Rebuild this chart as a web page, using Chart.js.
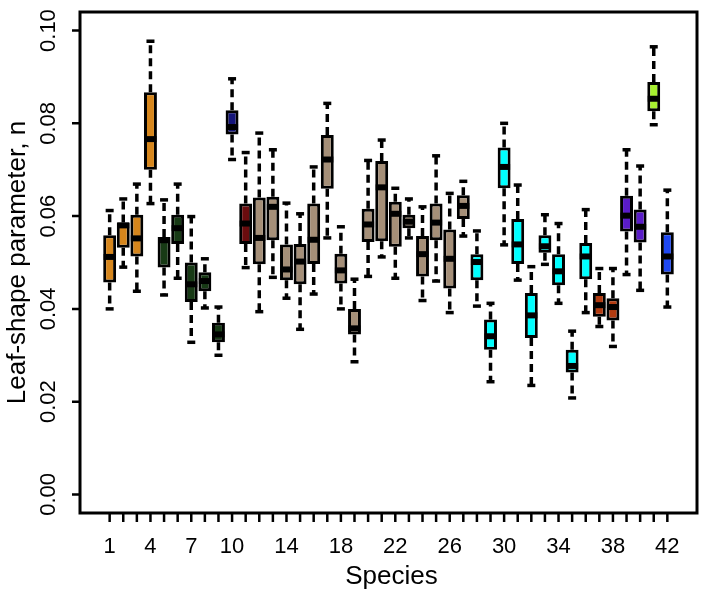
<!DOCTYPE html>
<html>
<head>
<meta charset="utf-8">
<script src="https://cdn.jsdelivr.net/npm/chart.js@4.4.1/dist/chart.umd.min.js"></script>
<style>
    html, body { margin: 0; padding: 0; background: #fff; }
    #wrap { width: 709px; height: 590px; }
</style>
</head>
<body>
<div id="wrap"><canvas id="chart" width="709" height="590"></canvas></div>
<script>
// species numbers (x categories)
const species = Array.from({ length: 42 }, (_, i) => i + 1);

// boxplot stats
const whiskerLow = [0.0400, 0.0490, 0.0438, 0.0627, 0.0430, 0.0466, 0.0328, 0.0402, 0.0300, 0.0722,
    0.0489, 0.0394, 0.0468, 0.0423, 0.0356, 0.0432, 0.0553, 0.0400, 0.0286, 0.0470,
    0.0512, 0.0466, 0.0553, 0.0418, 0.0460, 0.0392, 0.0557, 0.0406, 0.0243, 0.0538,
    0.0462, 0.0235, 0.0496, 0.0412, 0.0208, 0.0392, 0.0362, 0.0319, 0.0474, 0.0440,
    0.0797, 0.0404];
const q1 = [0.0457, 0.0532, 0.0513, 0.0700, 0.0489, 0.0540, 0.0415, 0.0438, 0.0328, 0.0776,
    0.0540, 0.0496, 0.0548, 0.0462, 0.0453, 0.0497, 0.0659, 0.0455, 0.0345, 0.0544,
    0.0546, 0.0534, 0.0574, 0.0470, 0.0548, 0.0444, 0.0594, 0.0462, 0.0312, 0.0660,
    0.0497, 0.0337, 0.0521, 0.0451, 0.0263, 0.0464, 0.0383, 0.0375, 0.0567, 0.0543,
    0.0826, 0.0474];
const median = [0.0512, 0.0580, 0.0552, 0.0766, 0.0548, 0.0574, 0.0453, 0.0460, 0.0345, 0.0792,
    0.0584, 0.0553, 0.0620, 0.0485, 0.0502, 0.0549, 0.0722, 0.0483, 0.0358, 0.0582,
    0.0662, 0.0605, 0.0588, 0.0518, 0.0586, 0.0508, 0.0622, 0.0501, 0.0341, 0.0706,
    0.0539, 0.0386, 0.0535, 0.0481, 0.0277, 0.0513, 0.0408, 0.0404, 0.0601, 0.0577,
    0.0853, 0.0513];
const q3 = [0.0559, 0.0586, 0.0603, 0.0867, 0.0555, 0.0603, 0.0500, 0.0479, 0.0370, 0.0828,
    0.0627, 0.0640, 0.0642, 0.0539, 0.0540, 0.0627, 0.0775, 0.0519, 0.0400, 0.0616,
    0.0719, 0.0631, 0.0603, 0.0557, 0.0627, 0.0571, 0.0645, 0.0518, 0.0377, 0.0748,
    0.0594, 0.0434, 0.0559, 0.0518, 0.0312, 0.0542, 0.0434, 0.0423, 0.0644, 0.0614,
    0.0889, 0.0565];
const whiskerHigh = [0.0612, 0.0637, 0.0669, 0.0977, 0.0635, 0.0669, 0.0599, 0.0508, 0.0404, 0.0896,
    0.0737, 0.0779, 0.0743, 0.0628, 0.0605, 0.0706, 0.0843, 0.0577, 0.0464, 0.0720,
    0.0764, 0.0660, 0.0637, 0.0620, 0.0730, 0.0649, 0.0675, 0.0568, 0.0412, 0.0800,
    0.0667, 0.0491, 0.0603, 0.0584, 0.0352, 0.0614, 0.0487, 0.0487, 0.0743, 0.0708,
    0.0965, 0.0656];

// axis ticks
const xTickLabels = [1, 4, 7, 10, 14, 18, 22, 26, 30, 34, 38, 42];
const yTicks = [0, 0.02, 0.04, 0.06, 0.08, 0.10];
const yTickLabels = ['0.00', '0.02', '0.04', '0.06', '0.08', '0.10'];

// fill colour for each run of species
const colorRuns = [
    [4, '#d6861c'], [5, '#173a15'], [1, '#15157a'], [1, '#6a0c0e'], [16, '#a58f78'],
    [9, '#00ffff'], [2, '#b33b10'], [2, '#5a1cc8'], [1, '#a8f030'], [1, '#1f48f2']
];
const boxColors = [];
colorRuns.forEach(([n, c]) => { for (let k = 0; k < n; k++) boxColors.push(c); });

// whiskers as one dashed line with gaps
const whiskerPts = [];
species.forEach((s, i) => {
    whiskerPts.push({ x: s, y: q3[i] }, { x: s, y: whiskerHigh[i] }, { x: s, y: null });
    whiskerPts.push({ x: s, y: q1[i] }, { x: s, y: whiskerLow[i] }, { x: s, y: null });
});
const staplePts = [];
species.forEach((s, i) => {
    staplePts.push({ x: s, y: whiskerHigh[i] }, { x: s, y: whiskerLow[i] });
});

const FONT = '"Liberation Sans", Arial, sans-serif';

// R-style frame, ticks and labels
const rAxes = {
    id: 'rAxes',
    afterDraw(chart) {
        const { ctx, chartArea: a, scales: { x, y } } = chart;
        ctx.save();
        ctx.strokeStyle = '#000';
        ctx.fillStyle = '#000';
        ctx.lineWidth = 3;
        ctx.strokeRect(a.left, a.top, a.right - a.left, a.bottom - a.top);

        ctx.lineWidth = 2.5;
        ctx.beginPath();
        species.forEach(s => {
            const px = x.getPixelForValue(s);
            ctx.moveTo(px, a.bottom);
            ctx.lineTo(px, a.bottom + 9);
        });
        yTicks.forEach(v => {
            const py = y.getPixelForValue(v);
            ctx.moveTo(a.left, py);
            ctx.lineTo(a.left - 8, py);
        });
        ctx.stroke();

        ctx.font = '22px ' + FONT;
        ctx.textAlign = 'center';
        ctx.textBaseline = 'alphabetic';
        xTickLabels.forEach(s => {
            ctx.fillText(String(s), x.getPixelForValue(s), 553);
        });
        yTicks.forEach((v, i) => {
            ctx.save();
            ctx.translate(55, y.getPixelForValue(v));
            ctx.rotate(-Math.PI / 2);
            ctx.fillText(yTickLabels[i], 0, 0);
            ctx.restore();
        });

        ctx.font = '26px ' + FONT;
        ctx.fillText('Species', (a.left + a.right) / 2 + 3, 584);
        ctx.save();
        ctx.translate(25, (a.top + a.bottom) / 2);
        ctx.rotate(-Math.PI / 2);
        ctx.fillText('Leaf-shape parameter, n', 0, 0);
        ctx.restore();
        ctx.restore();
    }
};

new Chart(document.getElementById('chart'), {
    type: 'bar',
    data: {
        datasets: [{
            type: 'line',
            data: whiskerPts,
            borderColor: '#000',
            borderWidth: 3.5,
            borderDash: [8, 5],
            pointRadius: 0,
            spanGaps: false,
            order: 4
        }, {
            type: 'bar',
            data: species.map((s, i) => ({ x: s, y: [q1[i], q3[i]] })),
            backgroundColor: boxColors,
            borderColor: '#000',
            borderWidth: 3,
            borderSkipped: false,
            barPercentage: 1,
            categoryPercentage: 0.95,
            order: 3
        }, {
            type: 'scatter',
            data: species.map((s, i) => ({ x: s, y: median[i] })),
            pointStyle: 'line',
            pointRadius: 6,
            borderColor: '#000',
            borderWidth: 6,
            order: 2
        }, {
            type: 'scatter',
            data: staplePts,
            pointStyle: 'line',
            pointRadius: 4,
            borderColor: '#000',
            borderWidth: 3.5,
            order: 1
        }]
    },
    options: {
        responsive: false,
        animation: false,
        layout: { padding: { left: 80, top: 3, right: 3, bottom: 77 } },
        plugins: { legend: { display: false }, tooltip: { enabled: false } },
        scales: {
            x: { type: 'linear', display: false, min: -1.18, max: 44.18, offset: false },
            y: { type: 'linear', display: false, min: -0.004, max: 0.104 }
        }
    },
    plugins: [rAxes]
});
</script>
</body>
</html>
